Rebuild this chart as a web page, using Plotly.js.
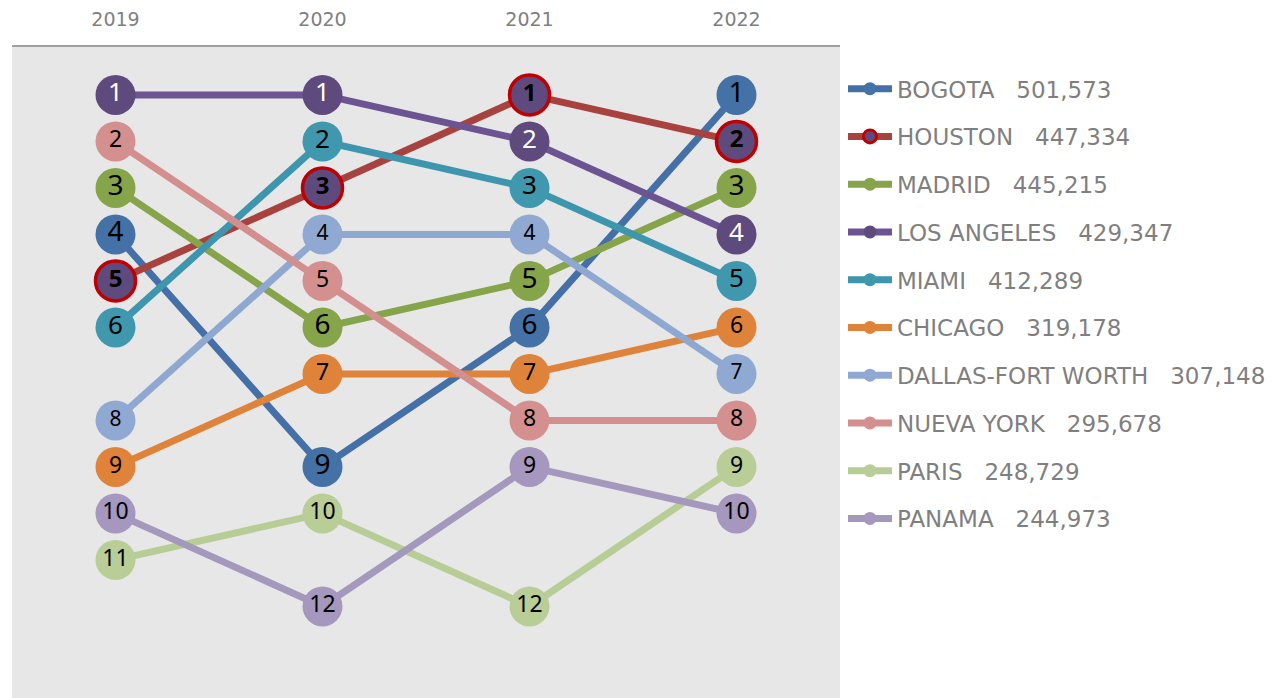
<!DOCTYPE html>
<html>
<head>
<meta charset="utf-8">
<script src="https://cdn.plot.ly/plotly-3.0.1.min.js"></script>
<style>html,body{margin:0;padding:0;background:#fff;}#chart{width:1283px;height:698px;}</style>
</head>
<body>
<div id="chart"></div>
<script>
const years = ['2019', '2020', '2021', '2022'];
const cities = ['BOGOTA', 'HOUSTON', 'MADRID', 'LOS ANGELES', 'MIAMI', 'CHICAGO', 'DALLAS-FORT WORTH', 'NUEVA YORK', 'PARIS', 'PANAMA'];
const totals = ['501,573', '447,334', '445,215', '429,347', '412,289', '319,178', '307,148', '295,678', '248,729', '244,973'];

const bogota     = [4, 9, 6, 1];
const houston    = [5, 3, 1, 2];
const madrid     = [3, 6, 5, 3];
const losAngeles = [1, 1, 2, 4];
const miami      = [6, 2, 3, 5];
const chicago    = [9, 7, 7, 6];
const dallas     = [8, 4, 4, 7];
const nuevaYork  = [2, 5, 8, 8];
const paris      = [11, 10, 12, 9];
const panama     = [10, 12, 9, 10];

const ranks = [bogota, houston, madrid, losAngeles, miami, chicago, dallas, nuevaYork, paris, panama];

const lineColors   = ['#4570a7', '#a8423f', '#86a44a', '#6c5493', '#3e96ae', '#de8339', '#8fa8d1', '#d38f8e', '#b7cd95', '#a498bc'];
const markerColors = ['#4472a6', '#5f4a7e', '#86a44a', '#5f4a7e', '#3f98ae', '#de8339', '#90a9d2', '#d4908f', '#b9ce96', '#a597bd'];
const markerLines  = [null, '#c00000', null, null, null, null, null, null, null, null];
const textColors   = ['#000', '#000', '#000', '#fff', '#000', '#000', '#000', '#000', '#000', '#000'];
const textSizes    = [28, 24, 28, 26, 26, 23, 21, 23, 23, 23];
const textWeights  = ['normal', 'bold', 'normal', 'normal', 'normal', 'normal', 'normal', 'normal', 'normal', 'normal'];

const xIdx = years.map((_, i) => i);
const traces = [];
// lines (with legend)
cities.forEach((c, i) => {
  traces.push({
    x: xIdx, y: ranks[i], type: 'scatter', mode: 'lines+markers',
    name: c + '\u00a0\u00a0\u00a0' + totals[i],
    legendgroup: c,
    line: {color: lineColors[i], width: 7},
    marker: {size: 13, color: markerColors[i],
      line: {color: markerLines[i] || markerColors[i], width: markerLines[i] ? 3 : 0}},
    hoverinfo: 'skip'
  });
});
// markers with rank text on top
cities.forEach((c, i) => {
  traces.push({
    x: xIdx, y: ranks[i], type: 'scatter', mode: 'markers+text',
    showlegend: false, legendgroup: c,
    text: ranks[i].map(String), textposition: 'middle center',
    textfont: {family: 'Noto Sans, Open Sans, sans-serif', size: textSizes[i], color: textColors[i], weight: textWeights[i]},
    marker: {size: 40, color: markerColors[i],
      line: {color: markerLines[i] || markerColors[i], width: markerLines[i] ? 3.5 : 0}},
    hoverinfo: 'skip'
  });
});

const layout = {
  width: 1283, height: 698,
  margin: {l: 12, r: 443, t: 47, b: 0, pad: 0},
  paper_bgcolor: '#ffffff', plot_bgcolor: '#e7e7e7',
  showlegend: true,
  legend: {
    x: 1.0036, xanchor: 'left', y: 0.969, yanchor: 'top',
    font: {family: 'DejaVu Sans, sans-serif', size: 23, color: '#7f7f7f'},
    traceorder: 'grouped', tracegroupgap: 14.85, itemwidth: 44,
    bgcolor: 'rgba(0,0,0,0)', borderwidth: 0
  },
  xaxis: {
    side: 'top', range: [-0.5, 3.5], tickvals: xIdx, ticktext: years,
    showgrid: false, zeroline: false, showline: true, linecolor: '#a0a0a0', linewidth: 2,
    ticks: '', ticklabelstandoff: 11,
    tickfont: {family: 'DejaVu Sans, sans-serif', size: 19, color: '#7f7f7f'},
    fixedrange: true
  },
  yaxis: {
    range: [13.97, -0.03], showgrid: false, zeroline: false, showticklabels: false,
    showline: false, ticks: '', fixedrange: true
  }
};

Plotly.newPlot('chart', traces, layout, {displayModeBar: false, staticPlot: true});
</script>
</body>
</html>
